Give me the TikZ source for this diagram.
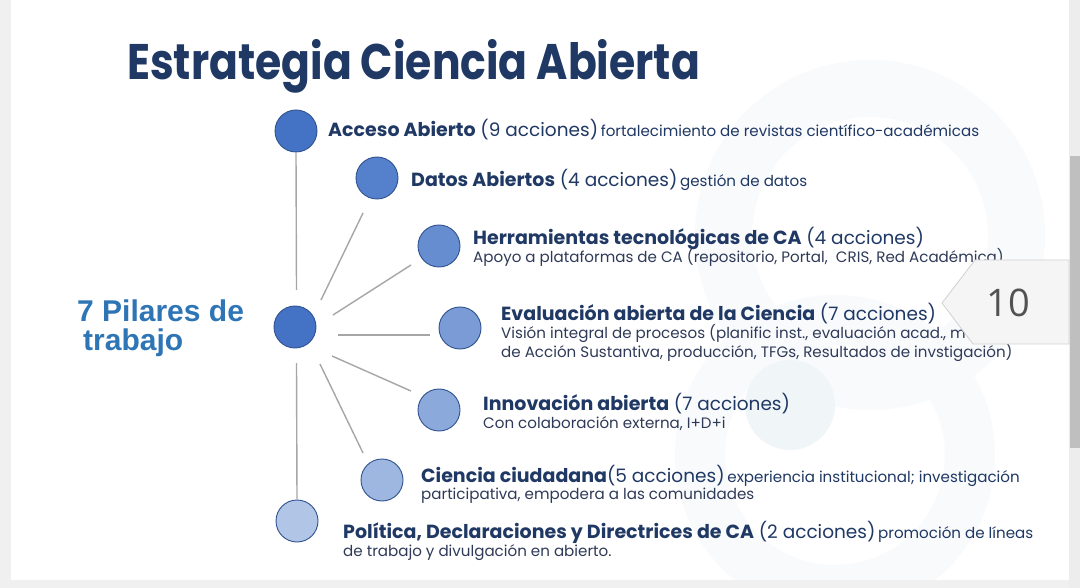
\documentclass[tikz,border=0pt]{standalone}
\usepackage{fontspec}
\setmainfont{Poppins}
\newfontfamily\arialf{Liberation Sans}
\newfontfamily\numf{Open Sans}
\definecolor{navy}{HTML}{1F3864}
\definecolor{txt}{HTML}{2F3A58}
\definecolor{pil}{HTML}{2E75B6}
\definecolor{stroke}{HTML}{2F528F}
\definecolor{spokegray}{HTML}{A6A6A6}
\definecolor{c1}{HTML}{4472C4}
\definecolor{c2}{HTML}{5580CB}
\definecolor{c3}{HTML}{678DD1}
\definecolor{c4}{HTML}{7A9BD6}
\definecolor{c5}{HTML}{8CA9DB}
\definecolor{c6}{HTML}{9EB7E0}
\definecolor{c7}{HTML}{B1C5E6}
\definecolor{wm}{HTML}{F8FAFC}
\definecolor{wm2}{HTML}{F0F5F8}
\newcommand{\bt}[1]{{\fontsize{19}{21}\selectfont\bfseries #1}\hspace{2pt}}
\newcommand{\pa}[1]{{\fontsize{18.5}{21}\selectfont #1}}
\newcommand{\dt}[1]{{\fontsize{15.1}{17}\selectfont #1}}
\tikzset{
  pillar/.style={circle, draw=stroke, line width=0.9pt, minimum size=42pt, inner sep=0pt},
  spoke/.style={draw=spokegray, line width=1.4pt},
  lbl/.style={anchor=base west, inner sep=0pt, text=navy},
  dsc/.style={anchor=base west, inner sep=0pt, text=txt}
}
\begin{document}
\begin{tikzpicture}[x=1pt,y=-1pt]
\useasboundingbox (0,0) rectangle (1080,588);
\fill[white] (0,0) rectangle (1080,588);
% faint watermark
\fill[wm, even odd rule] (870,235) circle (175) (870,235) circle (118);
\fill[wm, even odd rule] (835,455) circle (160) (835,455) circle (110);
\fill[wm2] (790,405) circle (45);
% frame bands
\fill[black!6] (0,0) rectangle (11,588);
\fill[black!6] (0,580) rectangle (1080,588);
\fill[black!7] (1069,0) rectangle (1080,588);
\fill[black!25] (1070,156) rectangle (1080,448);
% title
\node[anchor=base west, inner sep=0pt, text=navy] (title) at (127,80)
  {\scalebox{0.85}[1]{\fontsize{50}{56}\selectfont\bfseries Estrategia Ciencia Abierta}};
% left label
\node[anchor=base west, inner sep=0pt, text=pil] (pil1) at (77,322)
  {\arialf\fontsize{30}{32}\selectfont\bfseries 7 Pilares de};
\node[anchor=base west, inner sep=0pt, text=pil] (pil2) at (83,351)
  {\arialf\fontsize{30}{32}\selectfont\bfseries trabajo};
% circles
\node[pillar, fill=c1] (hub) at (295,327) {};
\node[pillar, fill=c1] (p1) at (296,131) {};
\node[pillar, fill=c2] (p2) at (377,178) {};
\node[pillar, fill=c3] (p3) at (439,246) {};
\node[pillar, fill=c4] (p4) at (460,328) {};
\node[pillar, fill=c5] (p5) at (439,410) {};
\node[pillar, fill=c6] (p6) at (382,480) {};
\node[pillar, fill=c7] (p7) at (297,521) {};
% spoke ends
\coordinate (s1a) at (296.5,290);
\coordinate (s2a) at (321,300);   \coordinate (s2b) at (363,213);
\coordinate (s3a) at (333,315);   \coordinate (s3b) at (411,265);
\coordinate (s4a) at (338,335);   \coordinate (s4b) at (430,335);
\coordinate (s5a) at (332,356);   \coordinate (s5b) at (411,391);
\coordinate (s6a) at (320,364);   \coordinate (s6b) at (363,453);
\coordinate (s7a) at (296.5,363);
\draw[spoke] (p1.south) -- (s1a);
\draw[spoke] (s2a) -- (s2b);
\draw[spoke] (s3a) -- (s3b);
\draw[spoke] (s4a) -- (s4b);
\draw[spoke] (s5a) -- (s5b);
\draw[spoke] (s6a) -- (s6b);
\draw[spoke] (s7a) -- (p7.north);
% texts
\node[lbl] (t1) at (328,137) {\bt{Acceso Abierto} \pa{(9 acciones)} \dt{fortalecimiento de revistas científico-académicas}};
\node[lbl] (t2) at (411,187) {\bt{Datos Abiertos} \pa{(4 acciones)} \dt{gestión de datos}};
\node[lbl] (t3) at (473,245) {\bt{Herramientas tecnológicas de CA} \pa{(4 acciones)}};
\node[dsc] (t3b) at (473,263) {\dt{Apoyo a plataformas de CA (repositorio, Portal,~ CRIS, Red Académica)}};
\node[lbl] (t4) at (501,321) {\bt{Evaluación abierta de la Ciencia} \pa{(7 acciones)}};
\node[dsc] (t4b) at (501,338) {\dt{Visión integral de procesos (planific inst., evaluación acad., mo}};
\node[dsc] (t4c) at (501,357) {\dt{de Acción Sustantiva, producción, TFGs, Resultados de invstigación)}};
\node[lbl] (t5) at (483,410) {\bt{Innovación abierta} \pa{(7 acciones)}};
\node[dsc] (t5b) at (483,428) {\dt{Con colaboración externa, I+D+i}};
\node[lbl] (t6) at (421,482) {{\fontsize{19}{21}\selectfont\bfseries Ciencia ciudadana}\pa{(5 acciones)} \dt{experiencia institucional; investigación}};
\node[dsc] (t6b) at (421,499) {\dt{participativa, empodera a las comunidades}};
\node[lbl] (t7) at (343,538) {\bt{Política, Declaraciones y Directrices de CA} \pa{(2 acciones)} \dt{promoción de líneas}};
\node[dsc] (t7b) at (343,556) {\dt{de trabajo y divulgación en abierto.}};
% page popup
\filldraw[fill=black!4, draw=black!18, line width=0.8pt] (942,303) -- (975,260) -- (1069,260) -- (1069,344) -- (973,344) -- cycle;
\node[text=black!68, inner sep=0pt] (num) at (1008,303) {\numf\fontsize{38}{40}\selectfont 10};
\end{tikzpicture}
\end{document}
